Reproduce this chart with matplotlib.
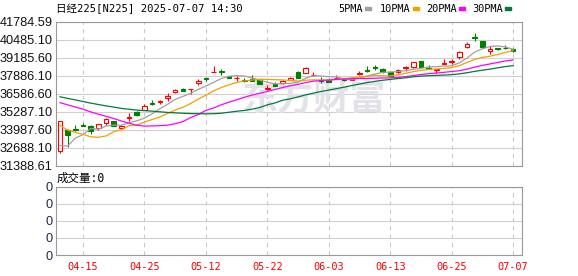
import matplotlib.pyplot as plt
from matplotlib.patches import Rectangle

W, H = 578, 276

# ---- data ----
dates = ['04-10', '04-11', '04-14', '04-15', '04-16', '04-17', '04-18', '04-21', '04-22', '04-23',
         '04-24', '04-25', '04-28', '04-30', '05-01', '05-02', '05-07', '05-08', '05-09', '05-12',
         '05-13', '05-14', '05-15', '05-16', '05-19', '05-20', '05-21', '05-22', '05-23', '05-26',
         '05-27', '05-28', '05-29', '05-30', '06-02', '06-03', '06-04', '06-05', '06-06', '06-09',
         '06-10', '06-11', '06-12', '06-13', '06-16', '06-17', '06-18', '06-19', '06-20', '06-23',
         '06-24', '06-25', '06-26', '06-27', '06-30', '07-01', '07-02', '07-03', '07-04', '07-07']

opens = [32430, 33966, 34050, 34320, 34255, 34089, 34450, 34616, 34111, 34840,
         35287, 35432, 35920, 35990, 36298, 36688, 36900, 36900, 37338, 37700,
         38150, 38230, 37886, 37700, 37600, 37640, 37627, 36950, 37260, 37338,
         37576, 38153, 38103, 37940, 37600, 37550, 37700, 37650, 37600, 38000,
         38290, 38500, 38390, 38153, 38153, 38440, 38490, 38925, 38470, 38330,
         38760, 38900, 39215, 39980, 40700, 40370, 39650, 39860, 39900, 39835]

highs = [34650, 34017, 34305, 34490, 34349, 34420, 34800, 34650, 34300, 35172,
         35360, 35865, 36130, 36154, 36616, 36950, 37020, 36940, 37670, 37814,
         38608, 38348, 37900, 37865, 37720, 37958, 37650, 37193, 37431, 37600,
         37800, 38200, 38520, 38153, 37771, 37720, 37958, 37750, 37800, 38250,
         38560, 38630, 38450, 38200, 38400, 38590, 38900, 38950, 38650, 38370,
         39100, 39100, 39700, 40290, 40950, 40420, 40000, 39900, 40125, 39860]

lows = [32330, 32717, 33873, 34230, 33677, 34000, 34305, 34250, 34050, 34638,
        34980, 35400, 35780, 35865, 36082, 36650, 36750, 36587, 37236, 37525,
        38140, 37958, 37700, 37482, 37450, 37500, 37260, 36880, 37120, 37300,
        37550, 37700, 38080, 37865, 37381, 37420, 37680, 37500, 37550, 37950,
        38150, 38300, 38100, 37820, 38100, 38200, 38450, 38480, 38350, 38100,
        38720, 38700, 39115, 39870, 40400, 39850, 39470, 39720, 39790, 39600]

closes = [34609, 33586, 33982, 34268, 33920, 34378, 34730, 34280, 34221, 34869,
          35039, 35706, 35840, 36045, 36452, 36831, 36780, 36929, 37503, 37644,
          38183, 38128, 37756, 37754, 37499, 37529, 37299, 36986, 37160, 37532,
          37724, 37722, 38433, 37965, 37471, 37447, 37747, 37554, 37742, 38089,
          38212, 38421, 38173, 37870, 38311, 38537, 38885, 38520, 38403, 38354,
          38791, 38942, 39585, 40151, 40640, 39986, 39800, 39786, 39850, 39690]

ma5 = [32851, 32812, 33381, 33632, 34073, 34027, 34256, 34315, 34306, 34496,
       34628, 34823, 35135, 35500, 35816, 36175, 36390, 36607, 36899, 37137,
       37408, 37677, 37843, 37893, 37864, 37733, 37567, 37413, 37295, 37301,
       37340, 37425, 37714, 37875, 37863, 37808, 37813, 37637, 37592, 37716,
       37869, 38004, 38127, 38146, 38190, 38255, 38348, 38411, 38525, 38533,
       38584, 38596, 38815, 39165, 39591, 39830, 39994, 40034, 39966, 39787]

ma10 = [34308, 33954, 33791, 33655, 33475, 33439, 33534, 33848, 33969, 34284,
        34327, 34539, 34725, 34903, 35156, 35401, 35606, 35871, 36199, 36477,
        36791, 37034, 37225, 37396, 37501, 37571, 37622, 37628, 37594, 37583,
        37537, 37496, 37564, 37585, 37582, 37574, 37619, 37676, 37734, 37789,
        37838, 37908, 37882, 37869, 37953, 38062, 38176, 38269, 38335, 38362,
        38420, 38472, 38613, 38845, 39062, 39207, 39295, 39425, 39566, 39689]

ma20 = [35940, 35780, 35626, 35470, 35274, 35105, 34958, 34791, 34613, 34455,
        34317, 34247, 34258, 34279, 34315, 34420, 34570, 34860, 35084, 35381,
        35559, 35786, 35975, 36149, 36328, 36486, 36614, 36750, 36897, 37030,
        37164, 37265, 37394, 37490, 37541, 37572, 37621, 37652, 37664, 37686,
        37687, 37702, 37723, 37727, 37768, 37818, 37897, 37972, 38035, 38076,
        38129, 38190, 38248, 38357, 38508, 38635, 38735, 38847, 38950, 39025]

ma30 = [36366, 36244, 36138, 36021, 35907, 35806, 35706, 35620, 35526, 35462,
        35402, 35366, 35326, 35281, 35234, 35204, 35174, 35151, 35142, 35129,
        35142, 35176, 35247, 35318, 35377, 35470, 35587, 35782, 35921, 36115,
        36218, 36356, 36505, 36628, 36746, 36849, 36949, 37058, 37176, 37283,
        37389, 37479, 37557, 37617, 37679, 37735, 37806, 37858, 37888, 37911,
        37932, 37959, 38020, 38100, 38199, 38281, 38363, 38456, 38545, 38613]

price_ticks = [31388.61, 32688.10, 33987.60, 35287.10, 36586.60,
               37886.10, 39185.60, 40485.10, 41784.59]
price_labels = ['31388.61', '32688.10', '33987.60', '35287.10', '36586.60',
                '37886.10', '39185.60', '40485.10', '41784.59']
tick_dates = ['04-15', '04-25', '05-12', '05-22', '06-03', '06-13', '06-25', '07-07']
vol_labels = ['0', '0', '0', '0', '0']

title = '日经225[N225] 2025-07-07 14:30'
vol_title = '成交量:0'
ma_names = ['5PMA', '10PMA', '20PMA', '30PMA']
ma_colors = ['#a0a0a0', '#f0a000', '#ff00ff', '#007a3d']

RED = '#ff0000'
GREEN = '#008000'
MONO = ['DejaVu Sans Mono', 'Noto Sans CJK SC']


def fx(px):
    return px / W


def fy(py):
    return 1 - py / H


fig = plt.figure(figsize=(W / 100, H / 100), dpi=100, facecolor='white')
ax = fig.add_axes([fx(56), fy(165.7), 466 / W, 144 / H])
axv = fig.add_axes([fx(56), fy(255), 466 / W, 68.3 / H])

x = list(range(len(dates)))
tick_pos = [dates.index(d) for d in tick_dates]

# candles
for i in x:
    o, hi, lo, c = opens[i], highs[i], lows[i], closes[i]
    up = c >= o
    col = RED if up else GREEN
    ax.vlines(i, lo, hi, color=col, lw=0.8, zorder=3)
    ax.bar(i, max(abs(c - o), 8), bottom=min(o, c), width=0.6,
           facecolor='white' if up else col, edgecolor=col, lw=0.8, zorder=4)

for ma, col in zip([ma5, ma10, ma20, ma30], ma_colors):
    ax.plot(x, ma, color=col, lw=0.9, zorder=5)

# watermark
ax.text(0.555, 0.46, '东方财富', transform=ax.transAxes, fontsize=26,
        color='#e2e2e8', fontweight='bold', ha='center', va='center',
        family='Noto Sans CJK SC', zorder=1)

for a in (ax, axv):
    a.set_xlim(-0.52, 60.16)
    a.set_xticks(tick_pos)
    a.set_axisbelow(True)
    a.grid(axis='x', color='#c8c8c8', lw=0.75, ls=(0, (4, 4)))
    a.grid(axis='y', color='#d0d0d0', lw=0.8)
    for s in a.spines.values():
        s.set_color('#999999')
        s.set_linewidth(0.8)

ax.set_ylim(price_ticks[0], price_ticks[-1])
ax.set_yticks(price_ticks)
ax.set_yticklabels(price_labels, fontsize=9.2, family='Liberation Sans', color='#111111')
ax.tick_params(axis='y', length=0, pad=2.5)
ax.tick_params(axis='x', length=0, labelbottom=False)

axv.set_ylim(0, 4)
axv.set_yticks(range(5))
axv.set_yticklabels(vol_labels, fontsize=9.2, family='Liberation Sans', color='#1b2a4a')
axv.set_xticklabels(tick_dates, color=RED, family='DejaVu Sans Mono', fontsize=7.4)
axv.tick_params(axis='y', length=0, pad=2.5)
axv.tick_params(axis='x', length=0, pad=5)

fig.text(fx(56), fy(8.5), title, family=MONO, fontsize=7.6, va='center', ha='left')
fig.text(fx(57), fy(178), vol_title, family=MONO, fontsize=8.3, va='center', ha='left')

# legend
leg_x = [338, 380, 426, 472]
for name, col, lx in zip(ma_names, ma_colors, leg_x):
    fig.text(fx(lx), fy(8.7), name, family='DejaVu Sans Mono', fontsize=7.4,
             va='center', ha='left')
    mx = lx + len(name) * 6.2 + 2
    fig.patches.append(Rectangle((fx(mx), fy(10)), 6 / W, 3 / H, color=col,
                                 transform=fig.transFigure, figure=fig))

fig.savefig('out.png', dpi=100)
